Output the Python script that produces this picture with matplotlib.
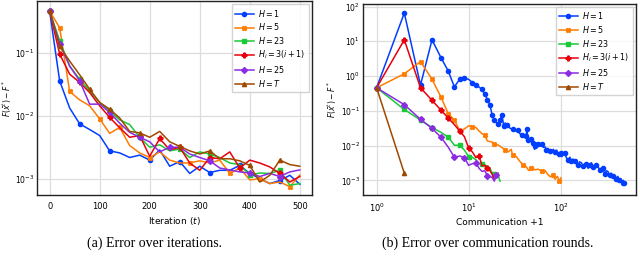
import numpy as np
import matplotlib
matplotlib.use("Agg")
import matplotlib.pyplot as plt

# ---- left panel: error every 20 iterations ----
iters = [0, 20, 40, 60, 80, 100, 120, 140, 160, 180, 200, 220, 240, 260,
         280, 300, 320, 340, 360, 380, 400, 420, 440, 460, 480, 500]

it_h1 = [0.46, 0.036, 0.0134, 0.0075, 0.0061, 0.0049, 0.0028, 0.0026, 0.0022,
         0.0024, 0.0020, 0.0029, 0.0016, 0.0019, 0.00123, 0.0016, 0.00127,
         0.00138, 0.00138, 0.00165, 0.00123, 0.00102, 0.00085, 0.00095,
         0.00115, 0.00083]
it_h5 = [0.46, 0.25, 0.0245, 0.018, 0.0145, 0.0090, 0.0053, 0.0066, 0.0034,
         0.0026, 0.0022, 0.0027, 0.0020, 0.0018, 0.00181, 0.00195, 0.0018,
         0.0020, 0.00123, 0.0015, 0.00097, 0.00102, 0.00085, 0.0009,
         0.00076, 0.00116]
it_h23 = [0.46, 0.156, 0.062, 0.038, 0.025, 0.0164, 0.0121, 0.0087, 0.0073,
          0.0046, 0.0032, 0.0035, 0.0028, 0.0030, 0.0022, 0.0027, 0.0025,
          0.0022, 0.0018, 0.0017, 0.00116, 0.00125, 0.00123, 0.00138,
          0.0008, 0.00085]
it_hi = [0.46, 0.096, 0.046, 0.034, 0.0235, 0.0145, 0.0095, 0.0065, 0.0046,
         0.0049, 0.0023, 0.0044, 0.0029, 0.0032, 0.0018, 0.00138, 0.0022,
         0.0021, 0.0027, 0.0015, 0.0020, 0.0018, 0.00156, 0.00123, 0.0009,
         0.0011]
it_h25 = [0.46, 0.14, 0.062, 0.036, 0.0154, 0.0154, 0.0114, 0.0077, 0.0055,
          0.0046, 0.0039, 0.0027, 0.0032, 0.0032, 0.0025, 0.0022, 0.00195,
          0.0015, 0.0014, 0.0013, 0.00125, 0.0011, 0.00123, 0.0011, 0.0013,
          0.0014]
it_hT = [0.46, 0.127, 0.074, 0.045, 0.0265, 0.0164, 0.0128, 0.0093, 0.0057,
         0.0054, 0.0046, 0.0057, 0.0039, 0.0033, 0.0028, 0.0025, 0.0028,
         0.0021, 0.0021, 0.00195, 0.00165, 0.0009, 0.00115, 0.0020, 0.0017,
         0.0016]

# ---- right panel: error against communication rounds + 1 ----
c_h1_x = [1, 2, 3, 4, 5, 6, 7, 8, 9, 10, 11, 12, 13, 14, 15, 16, 17, 18, 19,
          20, 21, 22, 23, 24, 25, 26, 28, 30, 32, 34, 36, 38, 40, 42, 43, 44,
          46, 48, 50, 52, 53, 55, 57, 60, 62, 65, 68, 70, 73, 76, 80, 83, 87,
          90, 95, 100, 103, 107, 111, 115, 121, 126, 131, 136, 142, 148, 155,
          161, 168, 175, 183, 190, 199, 207, 216, 225, 234, 244, 254, 265,
          276, 288, 300, 313, 326, 340, 354, 369, 384, 400, 417, 435, 453,
          470, 479, 490, 501]
c_h1_y = [0.46, 65, 0.55, 11, 3.4, 1.4, 0.49, 0.81, 0.88, 0.80, 0.65, 0.55,
          0.48, 0.41, 0.30, 0.21, 0.15, 0.075, 0.054, 0.047, 0.041, 0.055,
          0.076, 0.037, 0.045, 0.038, 0.032, 0.029, 0.026, 0.028, 0.022,
          0.020, 0.0175, 0.019, 0.030, 0.0148, 0.016, 0.0158, 0.012, 0.0078,
          0.0095, 0.012, 0.0114, 0.0095, 0.0109, 0.0088, 0.0091, 0.0075,
          0.0083, 0.0070, 0.0066, 0.0078, 0.0065, 0.0074, 0.0056, 0.0062,
          0.0048, 0.0055, 0.0060, 0.0045, 0.0039, 0.0046, 0.0035, 0.0041,
          0.0037, 0.0030, 0.0028, 0.0034, 0.0032, 0.0026, 0.0025, 0.0029,
          0.0022, 0.0027, 0.0032, 0.0024, 0.0022, 0.0028, 0.0025, 0.0020,
          0.0018, 0.0022, 0.0015, 0.0019, 0.0018, 0.0014, 0.0016, 0.0013,
          0.0014, 0.0011, 0.0013, 0.0010, 0.0011, 0.00085, 0.0010, 0.00082,
          0.00077]

c_h5_x = [1, 2, 3, 4, 5, 6, 7, 8, 9, 10, 11, 12, 13, 14, 15, 16, 18, 19, 21,
          23, 25, 27, 29, 30, 33, 36, 39, 42, 45, 48, 53, 57, 62, 68, 72, 77,
          82, 87, 92, 97, 101]
c_h5_y = [0.46, 1.16, 2.6, 0.81, 0.25, 0.083, 0.054, 0.027, 0.030, 0.037,
          0.035, 0.033, 0.026, 0.022, 0.0195, 0.0135, 0.0126, 0.0114, 0.0103,
          0.0088, 0.0074, 0.0066, 0.0078, 0.0053, 0.0048, 0.0035, 0.0028,
          0.0025, 0.0019, 0.0023, 0.0020, 0.0021, 0.0018, 0.0019, 0.0015,
          0.00127, 0.00138, 0.00107, 0.0013, 0.00096, 0.00118]

c_h23_x = list(range(1, 23))
c_h23_y = [0.46, 0.109, 0.054, 0.033, 0.024, 0.0175, 0.0102, 0.0102, 0.0074,
           0.0048, 0.0046, 0.0039, 0.0030, 0.0030, 0.0028, 0.0025, 0.0023,
           0.0016, 0.0015, 0.0014, 0.0013, 0.00095]

c_hi_x = list(range(1, 20))
c_hi_y = [0.46, 11, 0.46, 0.20, 0.105, 0.062, 0.040, 0.026, 0.018, 0.0085,
          0.0065, 0.0045, 0.0050, 0.0026, 0.0027, 0.0022, 0.0019, 0.0015,
          0.0011]

c_h25_x = list(range(1, 22))
c_h25_y = [0.46, 0.15, 0.057, 0.031, 0.0175, 0.009, 0.0046, 0.0050, 0.0045,
           0.0027, 0.0030, 0.0032, 0.0022, 0.0018, 0.0019, 0.0013, 0.0013,
           0.0012, 0.00095, 0.0014, 0.0016]

c_hT_x = [1, 2]
c_hT_y = [0.46, 0.0016]

labels = ["$H = 1$", "$H = 5$", "$H = 23$", "$H_i = 3(i+1)$", "$H = 25$",
          "$H = T$"]
colors = ["#023eff", "#ff7c00", "#1ac938", "#e8000b", "#8b2be2", "#9f4800"]
markers = ["o", "X", "s", "P", "D", "^"]
msizes = [3, 3, 3, 3.5, 3, 3]
right_every = [0.02, 0.04, 0.05, 0.05, 0.05, 0.05]

fig = plt.figure(figsize=(6.4, 2.67), dpi=100)
ax1 = fig.add_axes([0.058, 0.27, 0.43, 0.726])
ax2 = fig.add_axes([0.567, 0.27, 0.427, 0.716])

left_series = [it_h1, it_h5, it_h23, it_hi, it_h25, it_hT]
for ys, lab, c, m, ms in zip(left_series, labels, colors, markers, msizes):
    ax1.plot(iters, ys, color=c, marker=m, markersize=ms, lw=1.1,
             markevery=0.12, label=lab)

right_series = [(c_h1_x, c_h1_y), (c_h5_x, c_h5_y), (c_h23_x, c_h23_y),
                (c_hi_x, c_hi_y), (c_h25_x, c_h25_y), (c_hT_x, c_hT_y)]
for (xs, ys), lab, c, m, ms, ev in zip(right_series, labels, colors, markers,
                                       msizes, right_every):
    ax2.plot(xs, ys, color=c, marker=m, markersize=ms, lw=1.1,
             markevery=ev, label=lab)

ax1.set_yscale("log")
ax1.set_xlim(-25, 525)
ax1.set_ylim(10 ** -3.25, 10 ** -0.18)
ax1.set_xticks([0, 100, 200, 300, 400, 500])
ax1.set_xlabel("Iteration $(t)$", fontsize=6.5, labelpad=3)

ax2.set_xscale("log")
ax2.set_yscale("log")
ax2.set_xlim(10 ** -0.149, 10 ** 2.82)
ax2.set_ylim(10 ** -3.42, 10 ** 2.08)
ax2.set_xlabel("Communication +1", fontsize=6.5, labelpad=3)

for ax in (ax1, ax2):
    ax.set_ylabel(r"$F(\bar{x}^t) - F^*$", fontsize=5.5, labelpad=1)
    ax.grid(True, which="major", color="#dddddd", lw=0.9)
    ax.set_axisbelow(True)
    ax.tick_params(which="both", length=0, labelsize=6)
    ax.tick_params(axis="x", pad=5)
    ax.tick_params(axis="y", labelsize=5.5, pad=2)
    for s in ax.spines.values():
        s.set_color("#222222")
        s.set_linewidth(1.0)
    ax.legend(loc="upper right", fontsize=5.8, labelspacing=0.35,
              handlelength=2.3, handletextpad=0.6, borderpad=0.4,
              framealpha=0.85, edgecolor="#cccccc", fancybox=False,
              borderaxespad=0.4)

fig.text(0.242, 0.09, "(a) Error over iterations.", ha="center", va="center",
         fontsize=10, family="Liberation Serif")
fig.text(0.762, 0.09, "(b) Error over communication rounds.", ha="center",
         va="center", fontsize=10, family="Liberation Serif")

fig.savefig("out.png", dpi=100)
